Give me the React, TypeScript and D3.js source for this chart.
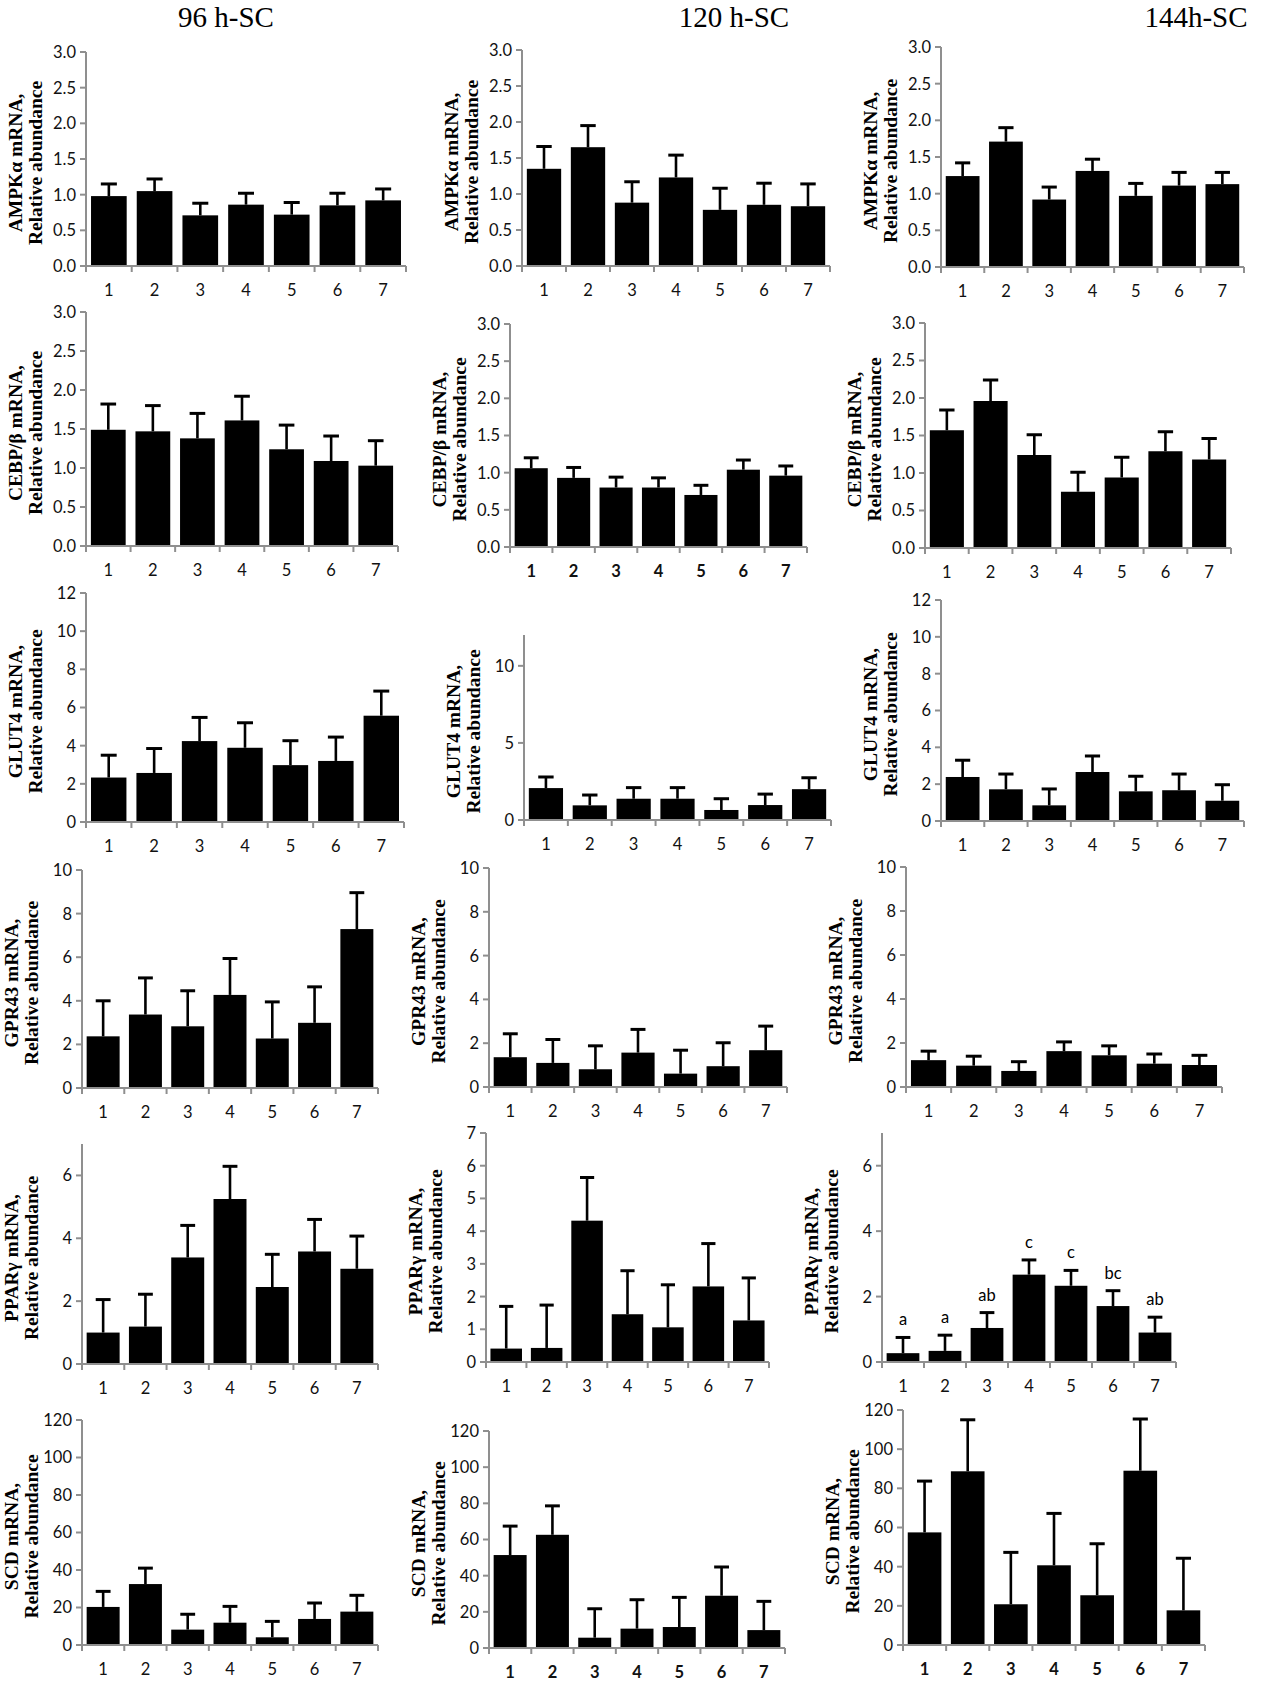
import React from "react";
import * as d3 from "d3";

// ---------- data ----------
const groups = ["1", "2", "3", "4", "5", "6", "7"];
const timeTitles = ["96 h-SC", "120 h-SC", "144h-SC"];
const geneLabels = ["AMPKα mRNA,", "CEBP/β mRNA,", "GLUT4 mRNA,", "GPR43 mRNA,", "PPARγ mRNA,", "SCD mRNA,"];
const yLabel2 = "Relative abundance";

const ampk96 = [0.98, 1.05, 0.71, 0.86, 0.72, 0.85, 0.92];
const ampk96Se = [0.17, 0.17, 0.17, 0.16, 0.17, 0.17, 0.16];
const ampk120 = [1.35, 1.65, 0.88, 1.23, 0.78, 0.85, 0.83];
const ampk120Se = [0.31, 0.3, 0.29, 0.31, 0.3, 0.3, 0.31];
const ampk144 = [1.24, 1.71, 0.92, 1.31, 0.97, 1.11, 1.13];
const ampk144Se = [0.18, 0.19, 0.17, 0.16, 0.17, 0.18, 0.16];

const cebp96 = [1.49, 1.47, 1.38, 1.61, 1.24, 1.09, 1.03];
const cebp96Se = [0.33, 0.33, 0.32, 0.31, 0.31, 0.32, 0.32];
const cebp120 = [1.06, 0.93, 0.8, 0.8, 0.7, 1.04, 0.96];
const cebp120Se = [0.14, 0.14, 0.14, 0.13, 0.13, 0.13, 0.13];
const cebp144 = [1.57, 1.96, 1.24, 0.75, 0.94, 1.29, 1.18];
const cebp144Se = [0.27, 0.28, 0.27, 0.26, 0.27, 0.26, 0.28];

const glut96 = [2.33, 2.57, 4.24, 3.89, 2.98, 3.2, 5.57];
const glut96Se = [1.17, 1.28, 1.24, 1.31, 1.28, 1.25, 1.29];
const glut120 = [2.07, 0.95, 1.38, 1.38, 0.65, 0.97, 2.0];
const glut120Se = [0.72, 0.67, 0.72, 0.72, 0.73, 0.71, 0.74];
const glut144 = [2.39, 1.72, 0.85, 2.66, 1.61, 1.67, 1.1];
const glut144Se = [0.91, 0.83, 0.89, 0.87, 0.82, 0.88, 0.87];

const gpr96 = [2.37, 3.37, 2.83, 4.27, 2.27, 2.99, 7.29];
const gpr96Se = [1.63, 1.68, 1.63, 1.67, 1.68, 1.65, 1.67];
const gpr120 = [1.36, 1.1, 0.81, 1.57, 0.61, 0.95, 1.68];
const gpr120Se = [1.07, 1.07, 1.07, 1.06, 1.07, 1.07, 1.1];
const gpr144 = [1.22, 0.97, 0.73, 1.63, 1.44, 1.06, 1.0];
const gpr144Se = [0.41, 0.43, 0.42, 0.42, 0.43, 0.44, 0.44];

const ppar96 = [1.0, 1.19, 3.39, 5.25, 2.45, 3.58, 3.03];
const ppar96Se = [1.05, 1.03, 1.02, 1.04, 1.04, 1.02, 1.04];
const ppar120 = [0.41, 0.43, 4.32, 1.46, 1.06, 2.31, 1.27];
const ppar120Se = [1.29, 1.31, 1.32, 1.33, 1.3, 1.31, 1.3];
const ppar144 = [0.27, 0.34, 1.04, 2.67, 2.33, 1.71, 0.9];
const ppar144Se = [0.48, 0.48, 0.47, 0.45, 0.47, 0.47, 0.47];
const ppar144Letters = ["a", "a", "ab", "c", "c", "bc", "ab"];

const scd96 = [20.3, 32.5, 8.2, 11.9, 4.1, 13.9, 17.8];
const scd96Se = [8.3, 8.5, 8.2, 8.7, 8.5, 8.5, 8.7];
const scd120 = [51.4, 62.6, 5.7, 10.7, 11.6, 28.9, 9.9];
const scd120Se = [16, 16, 16, 16, 16.4, 15.9, 15.9];
const scd144 = [57.5, 88.7, 20.8, 40.7, 25.4, 89, 17.7];
const scd144Se = [26.2, 26.3, 26.5, 26.5, 26.3, 26.4, 26.6];

const ticksFrac = [0, 0.5, 1, 1.5, 2, 2.5, 3];
const ticks12 = [0, 2, 4, 6, 8, 10, 12];
const ticks12by5 = [0, 5, 10];
const ticks10 = [0, 2, 4, 6, 8, 10];
const ticks7even = [0, 2, 4, 6];
const ticks7 = [0, 1, 2, 3, 4, 5, 6, 7];
const ticks120 = [0, 20, 40, 60, 80, 100, 120];

// ---------- layout (positions only) ----------
type Panel = {
  row: number; col: number;
  means: number[]; se: number[];
  max: number; ticks: number[]; fmt: string;
  x0: number; x1: number; yTop: number; yBot: number;
  boldX?: boolean; letters?: string[];
};

const panels: Panel[] = [
  { row: 0, col: 0, means: ampk96, se: ampk96Se, max: 3, ticks: ticksFrac, fmt: ".1f", x0: 86, x1: 406, yTop: 52, yBot: 266 },
  { row: 0, col: 1, means: ampk120, se: ampk120Se, max: 3, ticks: ticksFrac, fmt: ".1f", x0: 522, x1: 830, yTop: 50, yBot: 266 },
  { row: 0, col: 2, means: ampk144, se: ampk144Se, max: 3, ticks: ticksFrac, fmt: ".1f", x0: 941, x1: 1244, yTop: 47, yBot: 267 },

  { row: 1, col: 0, means: cebp96, se: cebp96Se, max: 3, ticks: ticksFrac, fmt: ".1f", x0: 86, x1: 398, yTop: 312, yBot: 546 },
  { row: 1, col: 1, means: cebp120, se: cebp120Se, max: 3, ticks: ticksFrac, fmt: ".1f", x0: 510, x1: 807, yTop: 324, yBot: 547, boldX: true },
  { row: 1, col: 2, means: cebp144, se: cebp144Se, max: 3, ticks: ticksFrac, fmt: ".1f", x0: 925, x1: 1231, yTop: 323, yBot: 548 },

  { row: 2, col: 0, means: glut96, se: glut96Se, max: 12, ticks: ticks12, fmt: "d", x0: 86, x1: 404, yTop: 593, yBot: 822 },
  { row: 2, col: 1, means: glut120, se: glut120Se, max: 12, ticks: ticks12by5, fmt: "d", x0: 524, x1: 831, yTop: 635, yBot: 820 },
  { row: 2, col: 2, means: glut144, se: glut144Se, max: 12, ticks: ticks12, fmt: "d", x0: 941, x1: 1244, yTop: 600, yBot: 821 },

  { row: 3, col: 0, means: gpr96, se: gpr96Se, max: 10, ticks: ticks10, fmt: "d", x0: 82, x1: 378, yTop: 870, yBot: 1088 },
  { row: 3, col: 1, means: gpr120, se: gpr120Se, max: 10, ticks: ticks10, fmt: "d", x0: 489, x1: 787, yTop: 868, yBot: 1087 },
  { row: 3, col: 2, means: gpr144, se: gpr144Se, max: 10, ticks: ticks10, fmt: "d", x0: 906, x1: 1222, yTop: 867, yBot: 1087 },

  { row: 4, col: 0, means: ppar96, se: ppar96Se, max: 7, ticks: ticks7even, fmt: "d", x0: 82, x1: 378, yTop: 1144, yBot: 1364 },
  { row: 4, col: 1, means: ppar120, se: ppar120Se, max: 7, ticks: ticks7, fmt: "d", x0: 486, x1: 769, yTop: 1133, yBot: 1362 },
  { row: 4, col: 2, means: ppar144, se: ppar144Se, max: 7, ticks: ticks7even, fmt: "d", x0: 882, x1: 1176, yTop: 1133, yBot: 1362, letters: ppar144Letters },

  { row: 5, col: 0, means: scd96, se: scd96Se, max: 120, ticks: ticks120, fmt: "d", x0: 82, x1: 378, yTop: 1420, yBot: 1645 },
  { row: 5, col: 1, means: scd120, se: scd120Se, max: 120, ticks: ticks120, fmt: "d", x0: 489, x1: 785, yTop: 1431, yBot: 1648, boldX: true },
  { row: 5, col: 2, means: scd144, se: scd144Se, max: 120, ticks: ticks120, fmt: "d", x0: 903, x1: 1205, yTop: 1410, yBot: 1645, boldX: true },
];

const titleX = [226, 734, 1196];

const W = 1261;
const H = 1684;
const AXIS = "#8f8f8f";
const SANS = "Lato, 'Open Sans', sans-serif";
const SERIF = "'Liberation Serif', 'Times New Roman', serif";

function BarPanel({ p }: { p: Panel }) {
  const x = d3.scaleBand<string>().domain(groups).range([p.x0, p.x1]).paddingInner(0.22).paddingOuter(0.11);
  const y = d3.scaleLinear().domain([0, p.max]).range([p.yBot, p.yTop]);
  const step = x.step();
  const bw = x.bandwidth();
  const capW = bw * 0.45;
  const fmt = d3.format(p.fmt);
  const midY = (p.yTop + p.yBot) / 2 + 4;
  return (
    <g>
      {/* bars */}
      {groups.map((g, i) => (
        <rect key={"b" + g} x={x(g)} y={y(p.means[i])} width={bw} height={p.yBot - y(p.means[i])} fill="#000" />
      ))}
      {/* error bars */}
      {groups.map((g, i) => {
        const cx = (x(g) as number) + bw / 2;
        const top = y(p.means[i] + p.se[i]);
        return (
          <g key={"e" + g} stroke="#000" strokeWidth={2.6}>
            <line x1={cx} x2={cx} y1={y(p.means[i])} y2={top} />
            <line x1={cx - capW / 2} x2={cx + capW / 2} y1={top} y2={top} strokeWidth={3} />
          </g>
        );
      })}
      {/* letters */}
      {p.letters &&
        groups.map((g, i) => (
          <text key={"l" + g} x={(x(g) as number) + bw / 2} y={y(p.means[i] + p.se[i]) - 12}
            textAnchor="middle" fontFamily={SANS} fontSize={16.5} fill="#000">
            {p.letters![i]}
          </text>
        ))}
      {/* y axis */}
      <line x1={p.x0} x2={p.x0} y1={p.yTop} y2={p.yBot} stroke={AXIS} strokeWidth={2} />
      {p.ticks.map((t) => (
        <g key={"yt" + t}>
          <line x1={p.x0 - 6} x2={p.x0} y1={y(t)} y2={y(t)} stroke={AXIS} strokeWidth={2} />
          <text x={p.x0 - 10} y={y(t)} dy="0.36em" textAnchor="end" fontFamily={SANS} fontSize={16.5} fill="#111">
            {fmt(t)}
          </text>
        </g>
      ))}
      {/* x axis */}
      <line x1={p.x0} x2={p.x1} y1={p.yBot} y2={p.yBot} stroke={AXIS} strokeWidth={2} />
      {d3.range(groups.length + 1).map((i) => (
        <line key={"xt" + i} x1={p.x0 + i * step} x2={p.x0 + i * step} y1={p.yBot} y2={p.yBot + 6} stroke={AXIS} strokeWidth={2} />
      ))}
      {groups.map((g) => (
        <text key={"xl" + g} x={(x(g) as number) + bw / 2} y={p.yBot + 30} textAnchor="middle"
          fontFamily={SANS} fontSize={16.5} fontWeight={p.boldX ? 700 : 400} fill="#111">
          {g}
        </text>
      ))}
      {/* y label */}
      <g transform={`translate(${p.x0 - 71},${midY}) rotate(-90)`}>
        <text x={0} y={0} dy="0.35em" textAnchor="middle" fontFamily={SERIF} fontWeight={700} fontSize={19.5} fill="#000">
          {geneLabels[p.row]}
        </text>
      </g>
      <g transform={`translate(${p.x0 - 51},${midY}) rotate(-90)`}>
        <text x={0} y={0} dy="0.35em" textAnchor="middle" fontFamily={SERIF} fontWeight={700} fontSize={19.5} fill="#000">
          {yLabel2}
        </text>
      </g>
    </g>
  );
}

export default function App() {
  return (
    <svg width={W} height={H} viewBox={`0 0 ${W} ${H}`} style={{ position: "absolute", left: 0, top: 0, background: "#fff" }}>
      <rect width={W} height={H} fill="#fff" />
      {timeTitles.map((t, i) => (
        <text key={t} x={titleX[i]} y={27} textAnchor="middle" fontFamily={SERIF} fontSize={29} fill="#000">
          {t}
        </text>
      ))}
      {panels.map((p) => (
        <BarPanel key={p.row + "-" + p.col} p={p} />
      ))}
    </svg>
  );
}
